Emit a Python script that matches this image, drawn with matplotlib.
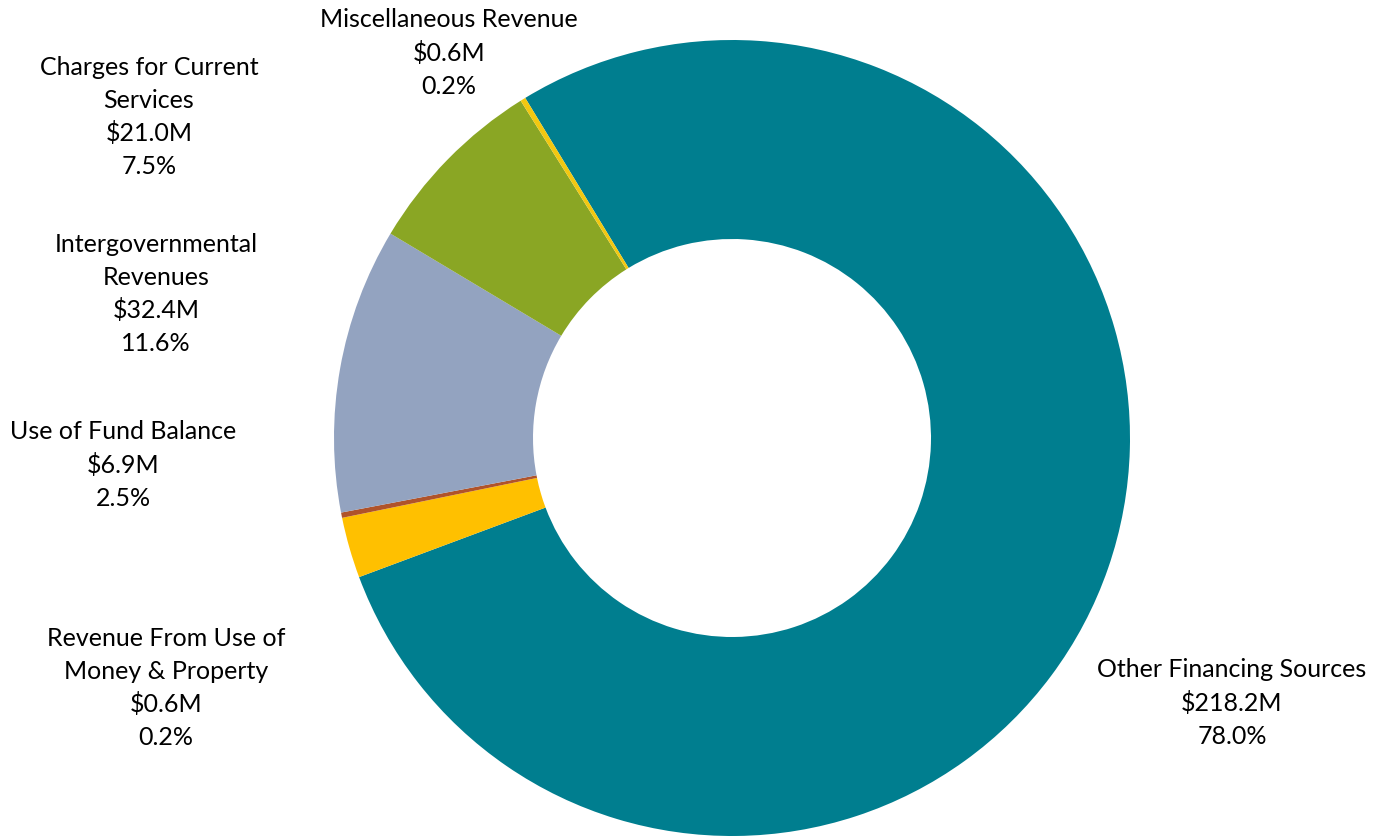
import matplotlib
matplotlib.use("Agg")
import matplotlib.pyplot as plt

# Revenue sources, in clockwise order from the top-left edge of the largest slice
categories = [
    "Other Financing Sources",
    "Use of Fund Balance",
    "Revenue From Use of\nMoney & Property",
    "Intergovernmental\nRevenues",
    "Charges for Current\nServices",
    "Miscellaneous Revenue",
]
amounts_m = [218.2, 6.9, 0.6, 32.4, 21.0, 0.6]
percents = [78.0, 2.5, 0.2, 11.6, 7.5, 0.2]

colors = ["#007E8F", "#FFC000", "#B0532A", "#93A3C0", "#8AA624", "#F2C811"]

# Label anchor points in pixel coordinates (x from left, y from top)
label_px = [
    (1232, 703),
    (123, 465),
    (166, 688),
    (156, 294),
    (149, 117),
    (449, 53),
]

W, H = 1385, 838
fig = plt.figure(figsize=(W / 100, H / 100), dpi=100)

cx, cy, r = 732, 438, 398
ax = fig.add_axes([(cx - r) / W, (H - cy - r) / H, 2 * r / W, 2 * r / H])
ax.pie(
    amounts_m,
    colors=colors,
    startangle=121.3,
    counterclock=False,
    radius=1.0,
    wedgeprops=dict(width=0.5, linewidth=0),
)
ax.set_xlim(-1, 1)
ax.set_ylim(-1, 1)
ax.set_aspect("equal")
ax.axis("off")

for name, amt, pct, (px, py) in zip(categories, amounts_m, percents, label_px):
    fig.text(
        px / W,
        1 - py / H,
        f"{name}\n${amt:.1f}M\n{pct:.1f}%",
        ha="center",
        va="center",
        multialignment="center",
        fontsize=18,
        family=["Lato", "DejaVu Sans"],
        color="#000000",
        linespacing=1.49,
    )

fig.savefig("out.png", dpi=100)
